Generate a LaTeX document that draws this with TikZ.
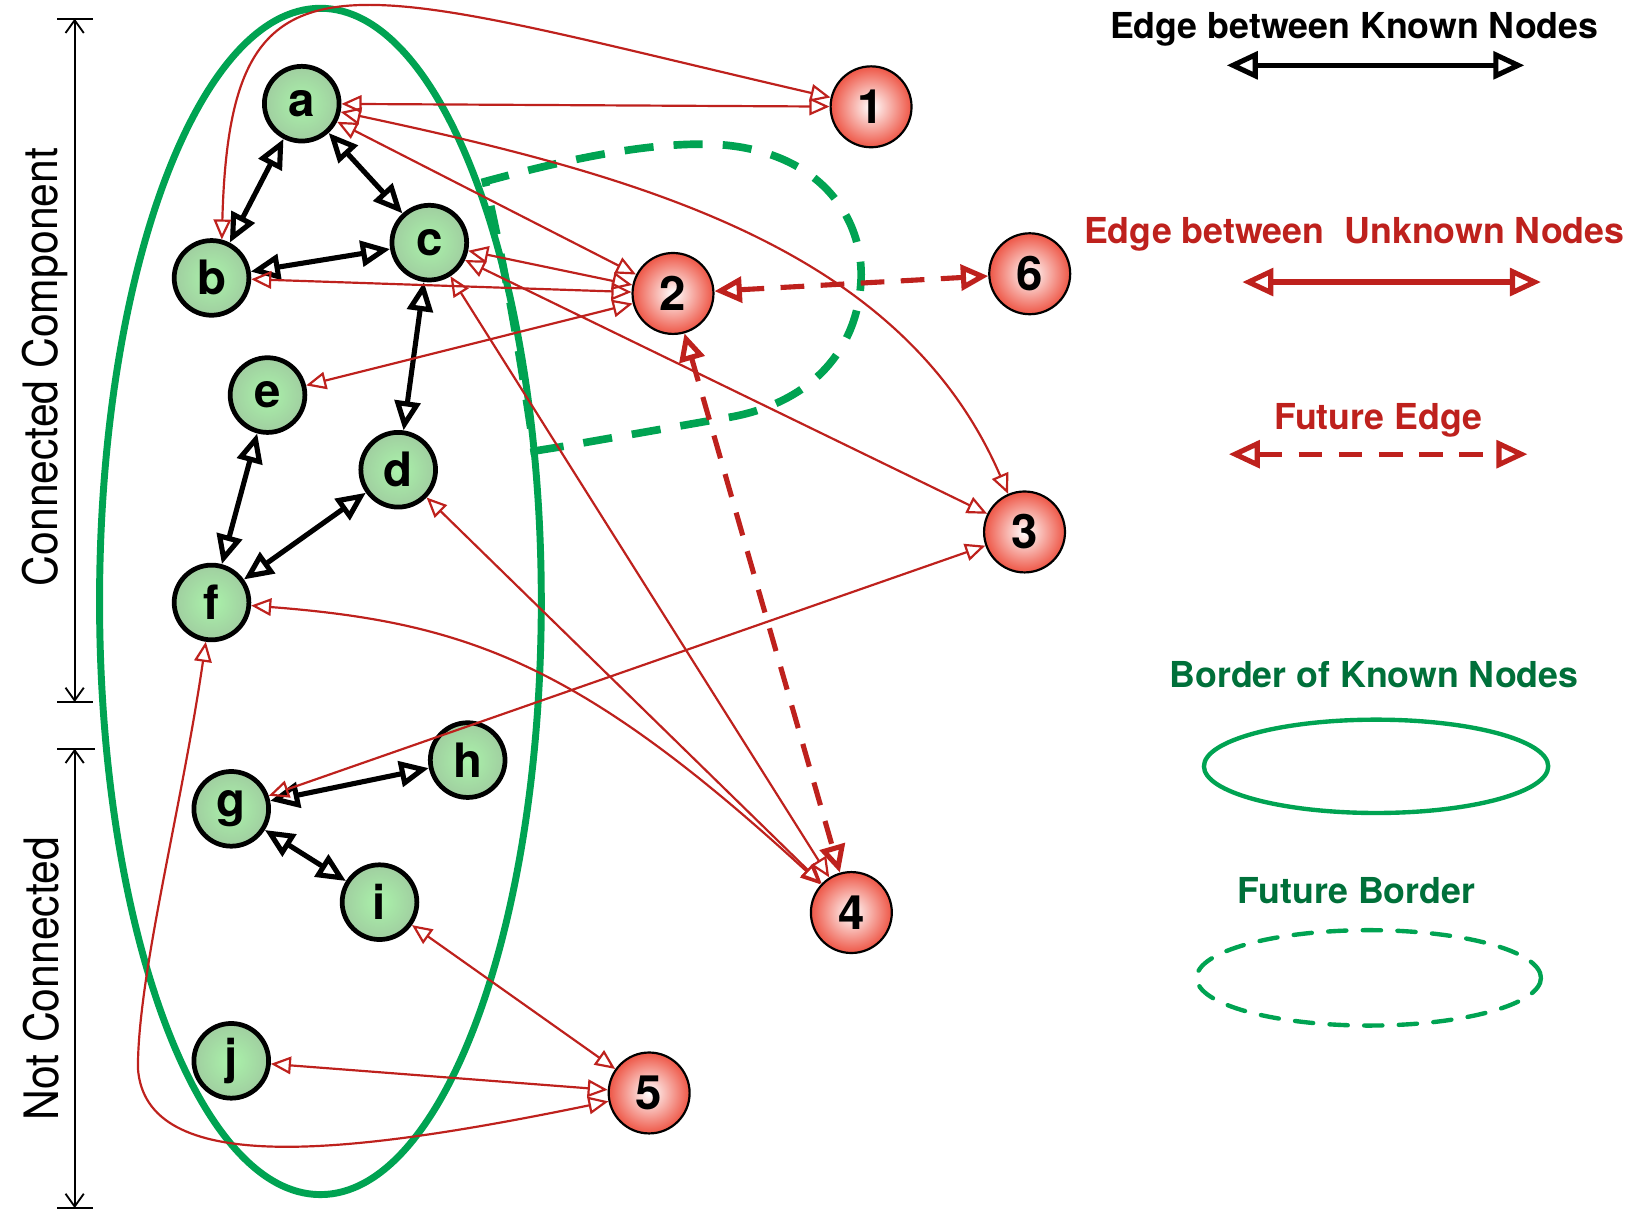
\documentclass[tikz,border=0pt]{standalone}
\usepackage{fontspec}
\setmainfont{TeX Gyre Heros}
\newfontfamily\narrowsans[FakeStretch=0.9]{TeX Gyre Heros}
\usetikzlibrary{arrows.meta}
\definecolor{edgered}{RGB}{190,33,29}
\definecolor{bordergreen}{RGB}{0,163,82}
\definecolor{legendgreen}{RGB}{0,112,58}
\definecolor{knowninner}{RGB}{170,242,170}
\definecolor{knownouter}{RGB}{160,206,160}
\definecolor{unknownouter}{RGB}{238,86,70}
\tikzset{
  knownnode/.style={circle,draw=black,line width=1.3pt,minimum size=0.72cm,inner sep=0pt,
    inner color=knowninner,outer color=knownouter,font=\bfseries\fontsize{13}{13}\selectfont},
  unknownnode/.style={circle,draw=black,line width=0.6pt,minimum size=0.78cm,inner sep=0pt,
    inner color=white,outer color=unknownouter,font=\bfseries\fontsize{13}{13}\selectfont},
  knownedge/.style={line width=1.4pt,{Triangle[open,length=8pt,width=7pt]}-{Triangle[open,length=8pt,width=7pt]}},
  unknownedge/.style={draw=edgered,line width=0.6pt,{Triangle[open,length=5.5pt,width=4.8pt]}-{Triangle[open,length=5.5pt,width=4.8pt]}},
  futureedge/.style={draw=edgered,line width=1.4pt,dash pattern=on 6.5pt off 4.5pt,{Triangle[open,length=7.5pt,width=7pt]}-{Triangle[open,length=7.5pt,width=7pt]}},
  knownborder/.style={draw=bordergreen,line width=1.9pt},
  futureborder/.style={draw=bordergreen,line width=2.1pt,dash pattern=on 8pt off 5.5pt},
  legendtext/.style={font=\bfseries\fontsize{9.8}{11}\selectfont},
  dimline/.style={line width=0.5pt,{Straight Barb[length=3.5pt,width=5pt]}-{Straight Barb[length=3.5pt,width=5pt]}},
  dimlabel/.style={rotate=90,font=\narrowsans\fontsize{13}{13}\selectfont},
}
\begin{document}
\begin{tikzpicture}[x=0.01cm,y=-0.01cm]
\useasboundingbox (0,0) rectangle (1568,1171.7);
% borders
\draw[knownborder] (309,580) ellipse [x radius=213,y radius=572];
\draw[futureborder] (540,431) -- (515,435) .. controls (500,330) and (485,250) .. (468,175)
  .. controls (560,150) and (640,135) .. (700,140) .. controls (800,150) and (835,220) .. (830,275)
  .. controls (825,340) and (780,390) .. (700,403) -- cycle;
% known nodes
\node[knownnode] (a) at (291,100) {a};
\node[knownnode] (b) at (204,268) {b};
\node[knownnode] (c) at (414,234) {c};
\node[knownnode] (e) at (258,381) {e};
\node[knownnode] (d) at (384,453) {d};
\node[knownnode] (f) at (204,581) {f};
\node[knownnode] (h) at (451,733) {h};
\node[knownnode] (g) at (223,780) {g};
\node[knownnode] (i) at (366,870) {i};
\node[knownnode] (j) at (223,1023) {j};
% unknown nodes
\node[unknownnode] (1) at (840,103) {1};
\node[unknownnode] (2) at (649,283) {2};
\node[unknownnode] (6) at (993,264) {6};
\node[unknownnode] (3) at (988,513) {3};
\node[unknownnode] (4) at (821,880) {4};
\node[unknownnode] (5) at (626,1054) {5};
% edges between known nodes
\draw[knownedge] (a) -- (b);
\draw[knownedge] (a) -- (c);
\draw[knownedge] (b) -- (c);
\draw[knownedge] (c) -- (d);
\draw[knownedge] (e) -- (f);
\draw[knownedge] (d) -- (f);
\draw[knownedge] (g) -- (h);
\draw[knownedge] (g) -- (i);
% edges to unknown nodes
\draw[unknownedge] (a) -- (1);
\draw[unknownedge] (b.75) .. controls (222,-70) and (330,-15) .. (1);
\draw[unknownedge] (a) -- (2);
\draw[unknownedge] (a) .. controls (620,170) and (870,240) .. (3);
\draw[unknownedge] (c) -- (2);
\draw[unknownedge] (b) -- (2);
\draw[unknownedge] (e) -- (2);
\draw[unknownedge] (c) -- (3);
\draw[unknownedge] (c) -- (4);
\draw[unknownedge] (d) -- (4);
\draw[unknownedge] (f) .. controls (450,600) and (560,640) .. (4);
\draw[unknownedge] (g) -- (3);
\draw[unknownedge] (i) -- (5);
\draw[unknownedge] (j) -- (5);
\coordinate (fbend) at (133,1030);
\draw[unknownedge] (f) .. controls (175,780) and (133,940) .. (fbend)
  .. controls (140,1135) and (330,1115) .. (5);
% future edges
\draw[futureedge] (2) -- (6);
\draw[futureedge] (2) -- (4);
% left side
\coordinate (cctop) at (72,18);
\coordinate (ccbot) at (72,677);
\coordinate (nctop) at (72,722);
\coordinate (ncbot) at (72,1165);
\draw[line width=0.5pt] (55,18) -- (90,18) (55,677) -- (90,677) (55,722) -- (92,722) (55,1165) -- (90,1165);
\draw[dimline] (cctop) -- (ccbot);
\draw[dimline] (nctop) -- (ncbot);
\node[dimlabel] (cclabel) at (43,354) {Connected Component};
\node[dimlabel] (nclabel) at (40,944) {Not Connected};
% legend
\node[legendtext] (knownlabel) at (1306,28) {Edge between Known Nodes};
\coordinate (kl) at (1183,63);
\coordinate (kr) at (1470,63);
\draw[line width=1.4pt,{Triangle[open,length=8.5pt,width=7.5pt]}-{Triangle[open,length=8.5pt,width=7.5pt]}] (kl) -- (kr);
\node[legendtext,text=edgered] (unknownlabel) at (1306,226) {Edge between\ \ Unknown Nodes};
\coordinate (ul) at (1198,272);
\coordinate (ur) at (1486,272);
\draw[draw=edgered,line width=1.4pt,{Triangle[open,length=8.5pt,width=7.5pt]}-{Triangle[open,length=8.5pt,width=7.5pt]}] (ul) -- (ur);
\node[legendtext,text=edgered] (futurelabel) at (1329,405) {Future Edge};
\coordinate (fl) at (1185,438);
\coordinate (fr) at (1473,438);
\draw[futureedge,{Triangle[open,length=8.5pt,width=7.5pt]}-{Triangle[open,length=8.5pt,width=7.5pt]}] (fl) -- (fr);
\node[legendtext,text=legendgreen] (borderlabel) at (1325,651) {Border of Known Nodes};
\draw[draw=bordergreen,line width=1.2pt] (1327,739) ellipse [x radius=166,y radius=45];
\node[legendtext,text=legendgreen] (futureborderlabel) at (1308,859) {Future Border};
\draw[draw=bordergreen,line width=1.2pt,line cap=round,dash pattern=on 5pt off 4.5pt] (1320,943) ellipse [x radius=166,y radius=46];
\end{tikzpicture}
\end{document}
